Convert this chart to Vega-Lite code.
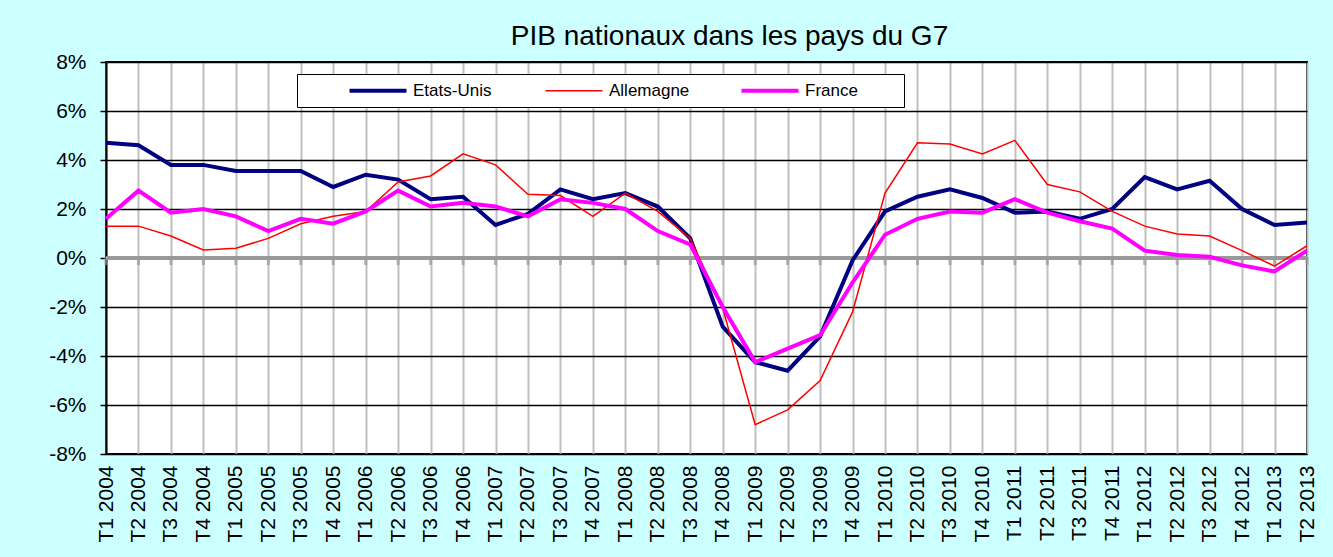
{
  "$schema": "https://vega.github.io/schema/vega-lite/v6.json",
  "autosize": {"type": "none"},
  "width": 1201,
  "height": 392,
  "padding": {"left": 106, "top": 62, "right": 26, "bottom": 103},
  "background": "#CCFFFF",
  "title": {
    "text": "PIB nationaux dans les pays du G7",
    "font": "Liberation Sans",
    "fontSize": 28,
    "fontWeight": "normal",
    "color": "#000000",
    "anchor": "middle",
    "frame": "group",
    "baseline": "alphabetic",
    "offset": -22,
    "dx": 23
  },
  "config": {
    "view": {"fill": "#FFFFFF", "stroke": "#000000", "strokeWidth": 2},
    "font": "Liberation Sans"
  },
  "data": {
    "values": [
      {"q": "T1 2004", "Etats-Unis": 4.7, "Allemagne": 1.3, "France": 1.6},
      {"q": "T2 2004", "Etats-Unis": 4.6, "Allemagne": 1.3, "France": 2.75},
      {"q": "T3 2004", "Etats-Unis": 3.8, "Allemagne": 0.9, "France": 1.85},
      {"q": "T4 2004", "Etats-Unis": 3.8, "Allemagne": 0.33, "France": 2.0},
      {"q": "T1 2005", "Etats-Unis": 3.55, "Allemagne": 0.4, "France": 1.7},
      {"q": "T2 2005", "Etats-Unis": 3.55, "Allemagne": 0.8, "France": 1.1},
      {"q": "T3 2005", "Etats-Unis": 3.55, "Allemagne": 1.4, "France": 1.6},
      {"q": "T4 2005", "Etats-Unis": 2.9, "Allemagne": 1.7, "France": 1.4},
      {"q": "T1 2006", "Etats-Unis": 3.4, "Allemagne": 1.9, "France": 1.9},
      {"q": "T2 2006", "Etats-Unis": 3.2, "Allemagne": 3.1, "France": 2.75},
      {"q": "T3 2006", "Etats-Unis": 2.4, "Allemagne": 3.35, "France": 2.1},
      {"q": "T4 2006", "Etats-Unis": 2.5, "Allemagne": 4.25, "France": 2.25},
      {"q": "T1 2007", "Etats-Unis": 1.35, "Allemagne": 3.8, "France": 2.1},
      {"q": "T2 2007", "Etats-Unis": 1.8, "Allemagne": 2.6, "France": 1.7},
      {"q": "T3 2007", "Etats-Unis": 2.8, "Allemagne": 2.55, "France": 2.4},
      {"q": "T4 2007", "Etats-Unis": 2.4, "Allemagne": 1.7, "France": 2.25},
      {"q": "T1 2008", "Etats-Unis": 2.65, "Allemagne": 2.65, "France": 2.0},
      {"q": "T2 2008", "Etats-Unis": 2.1, "Allemagne": 1.9, "France": 1.1},
      {"q": "T3 2008", "Etats-Unis": 0.8, "Allemagne": 0.8, "France": 0.55},
      {"q": "T4 2008", "Etats-Unis": -2.8, "Allemagne": -2.05, "France": -2.0},
      {"q": "T1 2009", "Etats-Unis": -4.25, "Allemagne": -6.8, "France": -4.25},
      {"q": "T2 2009", "Etats-Unis": -4.6, "Allemagne": -6.2, "France": -3.7},
      {"q": "T3 2009", "Etats-Unis": -3.2, "Allemagne": -5.0, "France": -3.15},
      {"q": "T4 2009", "Etats-Unis": -0.1, "Allemagne": -2.2, "France": -1.0},
      {"q": "T1 2010", "Etats-Unis": 1.9, "Allemagne": 2.65, "France": 0.95},
      {"q": "T2 2010", "Etats-Unis": 2.5, "Allemagne": 4.7, "France": 1.6},
      {"q": "T3 2010", "Etats-Unis": 2.8, "Allemagne": 4.65, "France": 1.9},
      {"q": "T4 2010", "Etats-Unis": 2.45, "Allemagne": 4.25, "France": 1.85},
      {"q": "T1 2011", "Etats-Unis": 1.85, "Allemagne": 4.8, "France": 2.4},
      {"q": "T2 2011", "Etats-Unis": 1.9, "Allemagne": 3.0, "France": 1.85},
      {"q": "T3 2011", "Etats-Unis": 1.6, "Allemagne": 2.7, "France": 1.5},
      {"q": "T4 2011", "Etats-Unis": 2.0, "Allemagne": 1.9, "France": 1.2},
      {"q": "T1 2012", "Etats-Unis": 3.3, "Allemagne": 1.3, "France": 0.3},
      {"q": "T2 2012", "Etats-Unis": 2.8, "Allemagne": 0.98, "France": 0.12},
      {"q": "T3 2012", "Etats-Unis": 3.15, "Allemagne": 0.9, "France": 0.05},
      {"q": "T4 2012", "Etats-Unis": 2.0, "Allemagne": 0.3, "France": -0.3},
      {"q": "T1 2013", "Etats-Unis": 1.35, "Allemagne": -0.33, "France": -0.55},
      {"q": "T2 2013", "Etats-Unis": 1.45, "Allemagne": 0.5, "France": 0.3}
    ]
  },
  "encoding": {
    "x": {
      "field": "q",
      "type": "nominal",
      "sort": null,
      "scale": {"type": "point", "padding": 0},
      "axis": {
        "title": null,
        "labelAngle": -90,
        "labelFontSize": 21,
        "labelColor": "#000000",
        "labelPadding": 11,
        "labelOverlap": false,
        "ticks": false,
        "domain": false,
        "grid": true,
        "gridColor": "#C0C0C0",
        "gridWidth": 2
      }
    }
  },
  "layer": [
    {
      "mark": {"type": "rule", "color": "#999999", "strokeWidth": 4},
      "encoding": {
        "x": null,
        "y": {
          "datum": 0,
          "type": "quantitative",
          "scale": {"domain": [-8, 8], "nice": false},
          "axis": {
            "title": null,
            "values": [-8, -6, -4, -2, 0, 2, 4, 6, 8],
            "labelExpr": "datum.value + '%'",
            "labelFontSize": 21,
            "labelColor": "#000000",
            "labelPadding": 14,
            "tickColor": "#000000",
            "tickSize": 6,
            "tickWidth": 1.5,
            "domainColor": "#000000",
            "domainWidth": 2,
            "grid": true,
            "gridColor": "#000000",
            "gridWidth": 1.5
          }
        }
      }
    },
    {
      "mark": {"type": "tick", "orient": "vertical", "color": "#999999", "size": 8, "thickness": 3, "yOffset": 3},
      "encoding": {
        "y": {"datum": 0, "type": "quantitative"}
      }
    },
    {
      "transform": [
        {"fold": ["Etats-Unis", "Allemagne", "France"], "as": ["serie", "val"]}
      ],
      "mark": {"type": "line", "strokeJoin": "miter"},
      "encoding": {
        "y": {"field": "val", "type": "quantitative"},
        "color": {
          "field": "serie",
          "type": "nominal",
          "scale": {"domain": ["Etats-Unis", "Allemagne", "France"], "range": ["#000080", "#FF0000", "#FF00FF"]},
          "legend": {
            "title": " ",
            "titleOrient": "left",
            "titlePadding": 41,
            "titleFontSize": 4,
            "orient": "none",
            "legendX": 191,
            "legendY": 12,
            "direction": "horizontal",
            "columns": 3,
            "gridAlign": "all",
            "columnPadding": 5,
            "padding": 8,
            "fillColor": "#FFFFFF",
            "strokeColor": "#000000",
            "symbolType": "M-1,0H10.4",
            "symbolSize": 100,
            "labelOffset": 50,
            "labelFontSize": 17,
            "labelColor": "#000000",
            "labelExpr": "datum.label + '\u00a0\u00a0\u00a0\u00a0\u00a0\u00a0\u00a0\u00a0\u200b'"
          }
        },
        "strokeWidth": {
          "field": "serie",
          "type": "nominal",
          "scale": {"type": "ordinal", "domain": ["Etats-Unis", "Allemagne", "France"], "range": [4, 1.5, 4]},
          "legend": {
            "title": " ",
            "titleOrient": "left",
            "titlePadding": 41,
            "titleFontSize": 4,
            "orient": "none",
            "legendX": 191,
            "legendY": 12,
            "direction": "horizontal",
            "columns": 3,
            "gridAlign": "all",
            "columnPadding": 5,
            "padding": 8,
            "fillColor": "#FFFFFF",
            "strokeColor": "#000000",
            "symbolType": "M-1,0H10.4",
            "symbolSize": 100,
            "labelOffset": 50,
            "labelFontSize": 17,
            "labelColor": "#000000",
            "labelExpr": "datum.label + '\u00a0\u00a0\u00a0\u00a0\u00a0\u00a0\u00a0\u00a0\u200b'"
          }
        }
      }
    }
  ]
}
